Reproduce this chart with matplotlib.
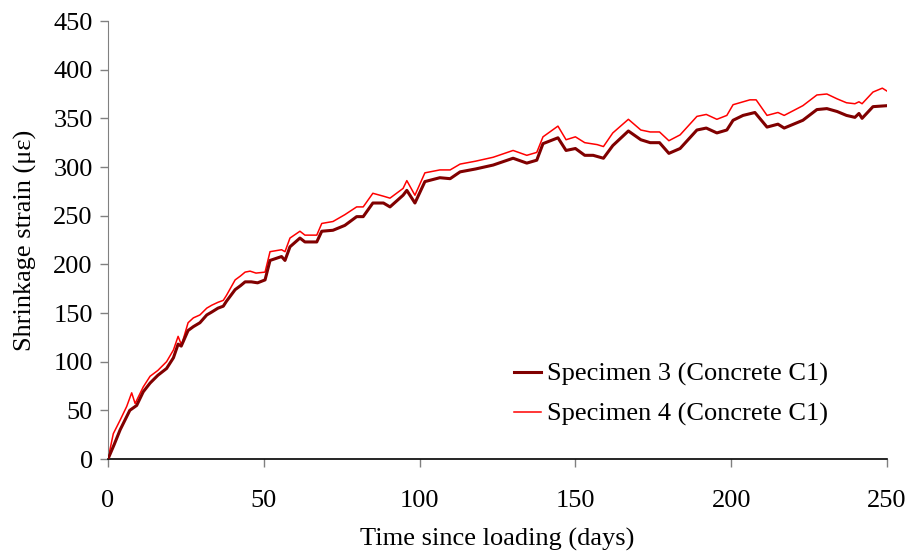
import matplotlib
matplotlib.use("Agg")
import matplotlib.pyplot as plt

days3 = [0, 2, 3.9, 7, 9.2, 11.3, 13.5, 16, 18.8, 21, 22.5, 23.5, 25.7, 27.4, 29.5,
         31.7, 33.3, 35.3, 37, 38, 40.8, 42.5, 44, 46, 48, 50.4, 52, 55.7, 56.8,
         58.4, 61.6, 63.2, 67, 68.6, 72.2, 76, 79.8, 81.9, 85, 88.4, 90.5, 94.7,
         95.9, 98.5, 101.7, 106.5, 109.8, 113, 118, 123.6, 130, 134.4, 137.6,
         139.6, 144.4, 147, 150, 153, 155.7, 159, 162, 167, 171, 174, 177, 180,
         183.6, 189, 192, 195.4, 198.6, 200.6, 203.8, 207.6, 211.5, 215, 217,
         223, 227.5, 230.7, 234, 237, 239.7, 241, 242, 245.5, 250]
spec3 = [0, 15, 30, 50, 55, 69, 78, 86, 93, 104, 118, 116, 132, 136, 140,
         148, 151, 155, 157, 162, 174, 178, 182, 182, 181, 184, 204, 208, 204,
         218, 227, 223, 223, 234, 235, 240, 249, 249, 263, 263, 259, 271,
         276, 263, 285, 289, 288, 295, 298, 302, 309, 304, 307,
         324, 330, 317, 319, 312, 312, 309, 322, 337, 328, 325, 325, 314,
         319, 338, 340, 335, 338, 348, 353, 356, 341, 344, 340,
         348, 359, 360, 357, 353, 351, 355, 350, 362, 363]

days4 = [0, 1.7, 3.9, 6, 7.6, 8.7, 11.3, 13.5, 16, 18.8, 21, 22.5, 23.6, 25.7,
         27.4, 29.5, 31.7, 33.3, 35.3, 37, 38, 40.8, 42.5, 44, 45.6, 47.5, 50.4,
         52, 55.7, 56.8, 58.4, 61.6, 63.2, 67, 68.6, 72.2, 76, 79.8, 81.9, 85,
         88.4, 90.5, 94.7, 95.9, 98.5, 101.7, 106.5, 109.8, 113, 118, 123.6,
         130, 134.4, 137.6, 139.6, 144.4, 147, 150, 153, 157, 159, 162, 167,
         171, 174, 177, 180, 183.6, 189, 192, 195.4, 198.6, 200.6, 206, 208,
         211.5, 215, 217, 223, 227.5, 230.7, 234, 237, 239.7, 241, 242, 245.5,
         248.5, 250]
spec4 = [0, 26, 40, 54, 68, 57, 74, 85, 91, 100, 112, 126, 117, 140,
         145, 148, 155, 158, 161, 163, 168, 184, 188, 192, 193, 191, 192,
         213, 215, 213, 227, 234, 230, 230, 242, 244, 251, 259, 259, 273,
         270, 268, 278, 286, 271, 294, 297, 297, 303, 306, 310,
         317, 312, 315, 331, 342, 328, 331, 325, 323, 321, 335, 349,
         338, 336, 336, 327, 333, 352, 354, 349, 353, 364, 369, 369,
         353, 356, 353, 363, 374, 375, 370, 366, 365, 367, 365, 377,
         381, 378]

labels = ["Specimen 3 (Concrete C1)", "Specimen 4 (Concrete C1)"]
xticks = [0, 50, 100, 150, 200, 250]
yticks = list(range(0, 451, 50))

plt.rcParams['font.family'] = ['Liberation Serif', 'DejaVu Serif']
fs = 19

fig = plt.figure(figsize=(9.08, 5.58), dpi=100)
ax = fig.add_axes([108/908, 99/558, 779/908, 438/558])

ax.plot(days3, spec3, color='#800000', lw=2.2, label=labels[0], zorder=3)
ax.plot(days4, spec4, color='#ff0000', lw=1.1, label=labels[1], zorder=2)

ax.set_xlim(0, 250)
ax.set_ylim(0, 450)
ax.set_xticks(xticks)
ax.set_yticks(yticks)
ax.tick_params(axis='both', labelsize=fs, direction='out', color='#808080',
               width=1, length=6)
ax.tick_params(axis='x', pad=16)
ax.tick_params(axis='y', pad=5)
for s in ['top', 'right']:
    ax.spines[s].set_visible(False)
ax.spines['left'].set_color('#808080')
ax.spines['bottom'].set_color('black')
ax.spines['bottom'].set_linewidth(1.2)

ax.set_xlabel("Time since loading (days)", fontsize=fs, labelpad=12)
ax.set_ylabel("Shrinkage strain (με)", fontsize=fs, labelpad=12)

leg = ax.legend(loc='lower right', bbox_to_anchor=(0.955, 0.02), frameon=False,
                fontsize=fs, handlelength=1.0, handletextpad=0.25,
                labelspacing=0.62)

fig.savefig("out.png", dpi=100)
